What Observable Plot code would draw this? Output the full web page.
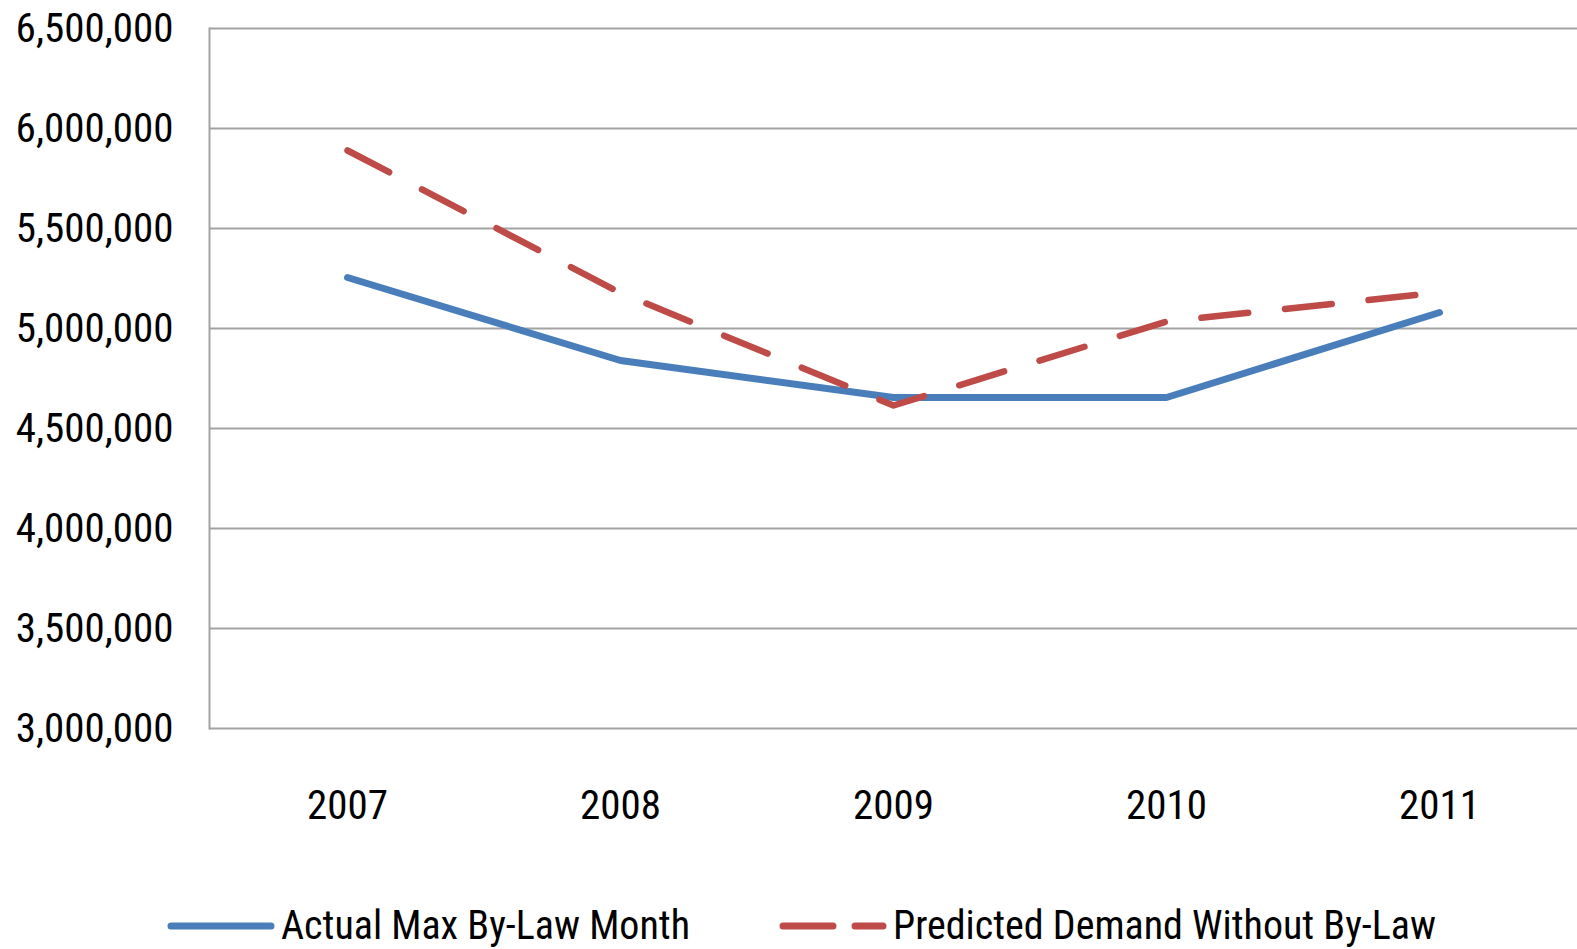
<!DOCTYPE html>
<html>
<head>
<meta charset="utf-8">
<script src="https://cdn.jsdelivr.net/npm/d3@7"></script>
<script src="https://cdn.jsdelivr.net/npm/@observablehq/plot@0.6"></script>
<style>
  html, body { margin: 0; padding: 0; background: #fff; }
  body { width: 1577px; height: 949px; overflow: hidden; font-family: "Liberation Sans Narrow", "Roboto Condensed", "DejaVu Sans Condensed", sans-serif; }
  #legend { position: relative; height: 89px; font-size: 40px; color: #000; }
  .item { position: absolute; top: 43px; height: 46px; display: flex; align-items: center; }
  .item svg { display: block; }
  .item span { margin-left: 6px; white-space: nowrap; line-height: 46px; }
</style>
</head>
<body>
<div id="chart"></div>
<div id="legend"></div>
<script>
const years = ["2007", "2008", "2009", "2010", "2011"];
const actualMax = [5255000, 4840000, 4655000, 4655000, 5080000];
const predicted = [5890000, 5178000, 4615000, 5035000, 5180000];
const seriesNames = ["Actual Max By-Law Month", "Predicted Demand Without By-Law"];
const yTicks = [3000000, 3500000, 4000000, 4500000, 5000000, 5500000, 6000000, 6500000];

const blue = "#4A7EBB";
const red = "#BE4B48";
const grid = "#a3a3a3";

const actualRows = years.map((y, i) => ({year: y, value: actualMax[i]}));
const predRows = years.map((y, i) => ({year: y, value: predicted[i]}));

const chart = Plot.plot({
  width: 1577,
  height: 860,
  marginLeft: 209,
  marginRight: 0,
  marginTop: 28,
  marginBottom: 132,
  style: {fontFamily: '"Liberation Sans Narrow", "Roboto Condensed", "DejaVu Sans Condensed", sans-serif', fontSize: "41px", color: "#000", background: "#fff"},
  x: {type: "point", domain: years, padding: 0.5},
  y: {domain: [3000000, 6500000]},
  marks: [
    Plot.ruleY(yTicks, {stroke: grid, strokeWidth: 2, strokeOpacity: 1}),
    Plot.frame({anchor: "left", stroke: grid, strokeWidth: 2, strokeOpacity: 1}),
    Plot.axisY({ticks: yTicks, tickSize: 0, tickPadding: 36, tickFormat: d3.format(","), label: null, fontSize: 41}),
    Plot.axisX({tickSize: 0, tickPadding: 61, label: null, fontSize: 41}),
    Plot.line(actualRows, {x: "year", y: "value", stroke: blue, strokeWidth: 7, strokeLinecap: "round", strokeLinejoin: "round"}),
    Plot.line(predRows, {x: "year", y: "value", stroke: red, strokeWidth: 6.5, strokeLinecap: "round", strokeLinejoin: "round", strokeDasharray: "47,37"})
  ]
});
document.getElementById("chart").appendChild(chart);

const legend = document.getElementById("legend");
const items = [
  {name: seriesNames[0], color: blue, dash: null, left: 167},
  {name: seriesNames[1], color: red, dash: "50,22", left: 779}
];
for (const it of items) {
  const div = document.createElement("div");
  div.className = "item";
  div.style.left = it.left + "px";
  const ns = "http://www.w3.org/2000/svg";
  const svg = document.createElementNS(ns, "svg");
  svg.setAttribute("width", 108);
  svg.setAttribute("height", 20);
  const ln = document.createElementNS(ns, "line");
  ln.setAttribute("x1", 4); ln.setAttribute("x2", 104);
  ln.setAttribute("y1", 10); ln.setAttribute("y2", 10);
  ln.setAttribute("stroke", it.color);
  ln.setAttribute("stroke-width", 7);
  ln.setAttribute("stroke-linecap", "round");
  if (it.dash) ln.setAttribute("stroke-dasharray", it.dash);
  svg.appendChild(ln);
  const span = document.createElement("span");
  span.textContent = it.name;
  div.appendChild(svg);
  div.appendChild(span);
  legend.appendChild(div);
}
</script>
</body>
</html>
